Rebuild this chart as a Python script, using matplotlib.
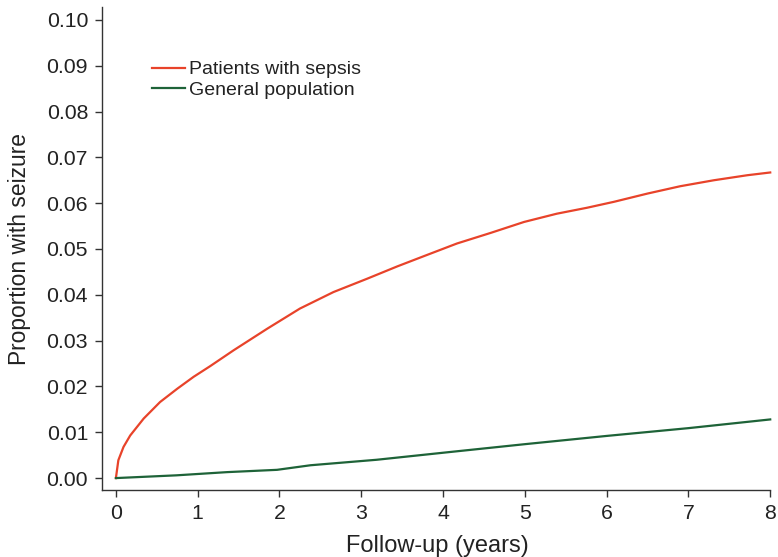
import matplotlib
matplotlib.use("Agg")
import matplotlib.pyplot as plt

plt.rcParams['font.family'] = ['Liberation Sans', 'DejaVu Sans']

sepsis_x = [0, 0.03, 0.093, 0.175, 0.34, 0.54, 0.75, 0.95, 1.15, 1.44, 1.85, 2.25, 2.66, 3.07,
            3.44, 3.76, 4.17, 4.58, 4.99, 5.39, 5.76, 6.09, 6.50, 6.90, 7.31, 7.72, 8.0]
sepsis_y = [0, 0.0039, 0.0068, 0.0093, 0.0130, 0.0166, 0.0195, 0.0221, 0.0244, 0.0279, 0.0326,
            0.0370, 0.0406, 0.0435, 0.0462, 0.0484, 0.0512, 0.0535, 0.0559, 0.0577, 0.0590,
            0.0603, 0.0621, 0.0637, 0.0650, 0.0661, 0.0667]
general_x = [0, 0.74, 1.36, 1.97, 2.38, 3.19, 4.09, 5, 6, 7, 8]
general_y = [0, 0.0006, 0.0013, 0.0018, 0.0028, 0.0040, 0.0057, 0.0074, 0.0092, 0.0109, 0.0128]
x_ticks = [0, 1, 2, 3, 4, 5, 6, 7, 8]
y_ticks = [0.00, 0.01, 0.02, 0.03, 0.04, 0.05, 0.06, 0.07, 0.08, 0.09, 0.10]

fig = plt.figure(figsize=(7.78, 5.57), dpi=100)
ax = fig.add_axes([0.1311, 0.1203, 0.861, 0.867])

ax.plot(sepsis_x, sepsis_y, color='#E8432A', lw=1.6, label='Patients with sepsis')
ax.plot(general_x, general_y, color='#1E6338', lw=1.6, label='General population')

ax.set_xlim(-0.17, 8.02)
ax.set_ylim(-0.0026, 0.1028)
ax.set_xticks(x_ticks)
ax.set_yticks(y_ticks)
ax.set_yticklabels([f"{v:.2f}" for v in y_ticks])
for s in ['top', 'right']:
    ax.spines[s].set_visible(False)
for s in ['left', 'bottom']:
    ax.spines[s].set_color('#333333')
    ax.spines[s].set_linewidth(1.0)
ax.spines['bottom'].set_bounds(-0.17, 8.0)
ax.tick_params(direction='out', length=5, width=1.0, color='#333333', labelsize=15.3, labelcolor='#222222', pad=5)
ax.set_xlabel('Follow-up (years)', fontsize=17, color='#222222', labelpad=9)
ax.set_ylabel('Proportion with seizure', fontsize=16.4, color='#222222', labelpad=11)

leg = ax.legend(loc='upper left', bbox_to_anchor=(0.0625, 0.905), frameon=False, fontsize=14,
                handlelength=1.7, handletextpad=0.2, labelspacing=0.15, borderaxespad=0)
for t in leg.get_texts():
    t.set_color('#222222')

fig.savefig('out.png', dpi=100)
